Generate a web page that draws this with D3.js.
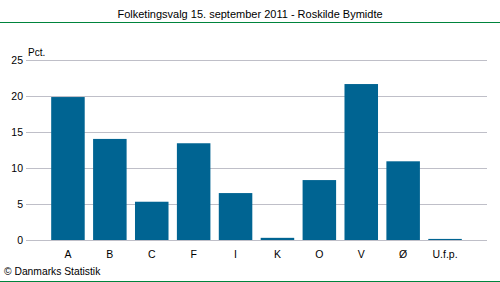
<!DOCTYPE html>
<html>
<head>
<meta charset="utf-8">
<script src="https://cdn.jsdelivr.net/npm/d3@7"></script>
<style>
  body { margin: 0; background: #fff; }
  text { font-family: "Liberation Sans", Arial, sans-serif; fill: #000; }
</style>
</head>
<body>
<svg id="chart"></svg>
<script>
const categories = ["A", "B", "C", "F", "I", "K", "O", "V", "Ø", "U.f.p."];
const values = [19.8, 14.0, 5.3, 13.4, 6.5, 0.3, 8.3, 21.6, 10.9, 0.15];
const yTicks = [0, 5, 10, 15, 20, 25];

const width = 500, height = 282;
const svg = d3.select("#chart").attr("width", width).attr("height", height);

// Title and green rules
svg.append("text")
  .attr("x", 250).attr("y", 18)
  .attr("text-anchor", "middle")
  .style("font-size", "11px")
  .text("Folketingsvalg 15. september 2011 - Roskilde Bymidte");

svg.append("line")
  .attr("x1", 0).attr("x2", width).attr("y1", 22.5).attr("y2", 22.5)
  .attr("stroke", "#00843d").attr("stroke-width", 1);
svg.append("line")
  .attr("x1", 0).attr("x2", width).attr("y1", 281.5).attr("y2", 281.5)
  .attr("stroke", "#00843d").attr("stroke-width", 1);

const y = d3.scaleLinear().domain([0, 25]).range([240, 59.5]);
const x = d3.scaleBand().domain(categories).range([47, 466]).paddingInner(0.2).paddingOuter(0.1);

// Gridlines
svg.append("g")
  .selectAll("line")
  .data(yTicks)
  .join("line")
  .attr("x1", 26).attr("x2", 487)
  .attr("y1", (d) => Math.round(y(d)) + 0.5)
  .attr("y2", (d) => Math.round(y(d)) + 0.5)
  .attr("stroke", "#bfbfc8");

// Y tick labels
svg.append("g")
  .selectAll("text")
  .data(yTicks)
  .join("text")
  .attr("x", 23)
  .attr("y", (d) => y(d) + 4)
  .attr("text-anchor", "end")
  .style("font-size", "10.5px")
  .text((d) => d);

svg.append("text")
  .attr("x", 28).attr("y", 56)
  .style("font-size", "10px")
  .text("Pct.");

// Bars
svg.append("g")
  .selectAll("rect")
  .data(values)
  .join("rect")
  .attr("x", (d, i) => x(categories[i]))
  .attr("width", x.bandwidth())
  .attr("y", (d) => y(d))
  .attr("height", (d) => y(0) - y(d))
  .attr("fill", "#006492");

// Category labels
svg.append("g")
  .selectAll("text")
  .data(categories)
  .join("text")
  .attr("x", (d) => x(d) + x.bandwidth() / 2)
  .attr("y", 258)
  .attr("text-anchor", "middle")
  .style("font-size", "10.5px")
  .text((d) => d);

svg.append("text")
  .attr("x", 4).attr("y", 275)
  .style("font-size", "10.3px")
  .text("© Danmarks Statistik");
</script>
</body>
</html>
